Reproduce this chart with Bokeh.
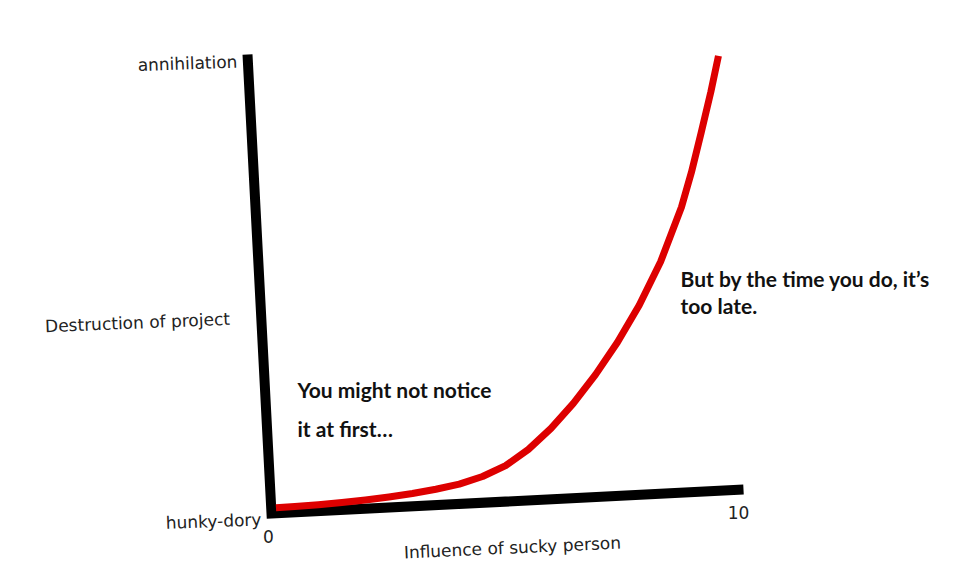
import numpy as np
from bokeh.plotting import figure
from bokeh.models import Range1d
from bokeh.core.properties import value
from bokeh.embed import file_html
from bokeh.resources import INLINE

# ---- data ----
influence = [0.1, 0.5, 1.0, 1.5, 2.0, 2.5, 3.0, 3.5, 4.0, 4.5, 5.0, 5.5, 6.0, 6.5,
             7.0, 7.5, 8.0, 8.5, 9.0, 9.25, 9.5, 9.75, 9.95]
destruction = [1.2, 1.25, 1.4, 1.6, 1.9, 2.3, 2.8, 3.45, 4.3, 5.7, 7.8, 11.1, 15.4, 20.6,
               26.6, 33.4, 41.2, 50.4, 62.0, 69.5, 78.0, 86.8, 94.5]
x_ticks = [0, 10]
x_tick_labels = ["0", "10"]
y_ticks = [0, 100]
y_tick_labels = ["hunky-dory", "annihilation"]
x_title = "Influence of sucky person"
y_title = "Destruction of project"
note1 = ["You might not notice", "it at first\u2026"]
note2 = ["But by the time you do, it\u2019s", "too late."]

# ---- skewed "hand drawn" frame: data (0..10, 0..100) -> canvas pixels ----
ORIGIN = (271.0, 513.0)
UX = (47.2, -2.4)     # one unit of x
UY = (-0.24, -4.59)   # one unit of y


def proj(x, y):
    x = np.asarray(x, dtype=float)
    y = np.asarray(y, dtype=float)
    return ORIGIN[0] + x * UX[0] + y * UY[0], ORIGIN[1] + x * UX[1] + y * UY[1]


W, H = 956, 567
p = figure(width=W, height=H, output_backend="svg", toolbar_location=None,
           x_range=Range1d(0, W), y_range=Range1d(H, 0),
           x_axis_location=None, y_axis_location=None, min_border=0)
p.grid.visible = False
p.outline_line_color = None
p.background_fill_color = "white"

# axes as thick black strokes
ax_x, ax_y = proj([0, 0, 10], [100, 0, 0])
p.line(list(ax_x), list(ax_y), line_color="black", line_width=10, line_join="miter", line_cap="butt")

# curve
cx, cy = proj(influence, destruction)
p.line(list(cx), list(cy), line_color="#dd0000", line_width=7, line_cap="butt", line_join="round")

axis_font = value("DejaVu Sans")
# y tick labels
yx, yy = proj([0, 0], y_ticks)
p.text(x=list(yx - 10), y=list(yy + np.array([6, 7])), text=y_tick_labels,
       text_font=axis_font, text_font_size="17px", text_align="right",
       text_baseline="middle", text_color="#222222", angle=0.035)
# x tick labels
xx, xy = proj(x_ticks, [0, 0])
p.text(x=list(xx + np.array([-3, -5])), y=list(xy + 23), text=x_tick_labels,
       text_font=axis_font, text_font_size="17px", text_align="center",
       text_baseline="middle", text_color="#222222")
# axis titles
p.text(x=[137], y=[322], text=[y_title], text_font=axis_font, text_font_size="17px",
       text_align="center", text_baseline="middle", text_color="#222222", angle=0.04)
p.text(x=[512], y=[547], text=[x_title], text_font=axis_font, text_font_size="17px",
       text_align="center", text_baseline="middle", text_color="#222222", angle=0.045)

note_font = value("Lato")
p.text(x=[297, 297], y=[389, 428], text=note1, text_font=note_font, text_font_size="21px",
       text_font_style="bold", text_align="left", text_baseline="middle", text_color="#111111")
p.text(x=[680, 680], y=[278, 305], text=note2, text_font=note_font, text_font_size="21px",
       text_font_style="bold", text_align="left", text_baseline="middle", text_color="#111111")

open("out.html", "w").write(file_html(p, INLINE))
